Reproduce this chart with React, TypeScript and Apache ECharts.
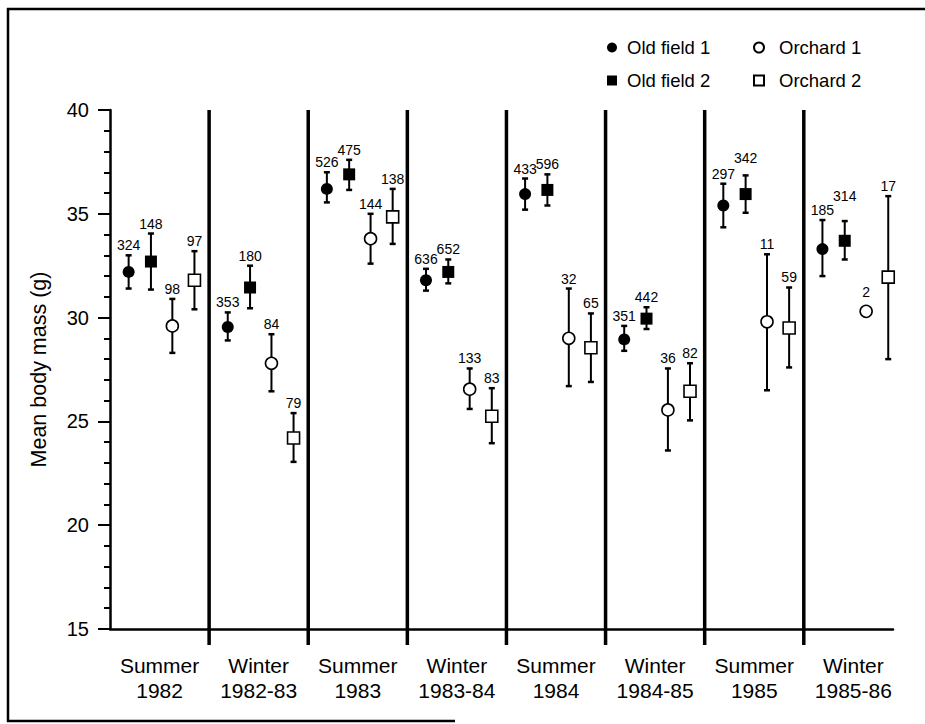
import React, { useEffect, useRef } from "react";
import * as echarts from "echarts";

// ---- Data ----
const periods = [
  "Summer\n1982",
  "Winter\n1982-83",
  "Summer\n1983",
  "Winter\n1983-84",
  "Summer\n1984",
  "Winter\n1984-85",
  "Summer\n1985",
  "Winter\n1985-86",
];

const seriesNames = ["Old field 1", "Old field 2", "Orchard 1", "Orchard 2"];

const oldField1Mean = [32.2, 29.55, 36.2, 31.8, 35.95, 28.95, 35.4, 33.3];
const oldField1Low = [31.4, 28.9, 35.55, 31.3, 35.2, 28.4, 34.35, 32.0];
const oldField1High = [33.0, 30.25, 37.0, 32.35, 36.7, 29.6, 36.45, 34.7];
const oldField1N = [324, 353, 526, 636, 433, 351, 297, 185];

const oldField2Mean = [32.7, 31.45, 36.9, 32.2, 36.15, 29.95, 35.95, 33.7];
const oldField2Low = [31.35, 30.45, 36.15, 31.65, 35.4, 29.45, 35.05, 32.8];
const oldField2High = [34.05, 32.5, 37.6, 32.8, 36.9, 30.5, 36.85, 34.65];
const oldField2N = [148, 180, 475, 652, 596, 442, 342, 314];

const orchard1Mean = [29.6, 27.8, 33.8, 26.55, 29.0, 25.55, 29.8, 30.3];
const orchard1Low = [28.3, 26.45, 32.6, 25.6, 26.7, 23.6, 26.5, null];
const orchard1High = [30.9, 29.2, 35.0, 27.55, 31.4, 27.55, 33.05, null];
const orchard1N = [98, 84, 144, 133, 32, 36, 11, 2];

const orchard2Mean = [31.8, 24.2, 34.85, 25.25, 28.55, 26.45, 29.5, 31.95];
const orchard2Low = [30.4, 23.05, 33.55, 23.95, 26.9, 25.05, 27.6, 28.0];
const orchard2High = [33.2, 25.4, 36.2, 26.6, 30.2, 27.8, 31.45, 35.85];
const orchard2N = [97, 79, 138, 83, 65, 82, 59, 17];

const yTicks = [15, 20, 25, 30, 35, 40];

// ---- Layout / style ----
const FONT = "'Liberation Sans', Arial, Helvetica, sans-serif";
const groupOffsets = [0.188, 0.413, 0.629, 0.852];
const symbols = ["circle", "rect", "circle", "rect"];
const filled = [true, true, false, false];
// extra label lift (px) for a few labels drawn higher in the reference
const labelLift: Record<string, number> = { "1-6": 7, "1-7": 15, "2-7": 3 };

const groups = [
  { mean: oldField1Mean, lo: oldField1Low, hi: oldField1High, n: oldField1N },
  { mean: oldField2Mean, lo: oldField2Low, hi: oldField2High, n: oldField2N },
  { mean: orchard1Mean, lo: orchard1Low, hi: orchard1High, n: orchard1N },
  { mean: orchard2Mean, lo: orchard2Low, hi: orchard2High, n: orchard2N },
];

function buildOption() {
  const yMin = yTicks[0];
  const yMax = yTicks[yTicks.length - 1];
  const series: any[] = [];

  // period separators
  series.push({
    type: "custom",
    name: "sep",
    silent: true,
    clip: false,
    z: 1,
    data: periods.slice(1).map((_, i) => [i + 1, yMax]),
    encode: { x: 0, y: 1 },
    renderItem: (params: any, api: any) => {
      const x = api.value(0);
      const top = api.coord([x, yMax]);
      const bot = api.coord([x, yMin]);
      return {
        type: "line",
        shape: { x1: top[0], y1: top[1], x2: bot[0], y2: bot[1] + 16 },
        style: { stroke: "#000", lineWidth: 3.5 },
      };
    },
  });

  groups.forEach((g, gi) => {
    const xs = g.mean.map((_, i) => i + groupOffsets[gi]);
    // error bars
    series.push({
      type: "custom",
      name: seriesNames[gi] + " SE",
      silent: true,
      z: 2,
      data: g.mean
        .map((_, i) => (g.lo[i] == null ? null : [xs[i], g.lo[i], g.hi[i]]))
        .filter((d) => d != null),
      encode: { x: 0, y: [1, 2] },
      renderItem: (params: any, api: any) => {
        const x = api.value(0);
        const pLo = api.coord([x, api.value(1)]);
        const pHi = api.coord([x, api.value(2)]);
        const cw = 3;
        return {
          type: "group",
          children: [
            { type: "line", shape: { x1: pLo[0], y1: pLo[1], x2: pHi[0], y2: pHi[1] }, style: { stroke: "#000", lineWidth: 2 } },
            { type: "line", shape: { x1: pHi[0] - cw, y1: pHi[1], x2: pHi[0] + cw, y2: pHi[1] }, style: { stroke: "#000", lineWidth: 2.5 } },
            { type: "line", shape: { x1: pLo[0] - cw, y1: pLo[1], x2: pLo[0] + cw, y2: pLo[1] }, style: { stroke: "#000", lineWidth: 2.5 } },
          ],
        };
      },
    });
    // markers
    series.push({
      type: "scatter",
      name: seriesNames[gi],
      symbol: symbols[gi],
      symbolSize: 12,
      z: 3,
      itemStyle: filled[gi]
        ? { color: "#000", borderColor: "#000", borderWidth: 0, opacity: 1 }
        : { color: "#fff", borderColor: "#000", borderWidth: 1.6, opacity: 1 },
      emphasis: { disabled: true },
      data: g.mean.map((m, i) => [xs[i], m]),
    });
    // n labels
    series.push({
      type: "scatter",
      name: seriesNames[gi] + " n",
      symbol: "circle",
      symbolSize: 0,
      silent: true,
      z: 4,
      itemStyle: { color: "#000", opacity: 1 },
      data: g.mean.map((m, i) => {
        const hasBar = g.hi[i] != null;
        const lift = labelLift[gi + "-" + i] || 0;
        return {
          value: [xs[i], hasBar ? g.hi[i] : m],
          label: {
            show: true,
            position: "top",
            color: "#000",
            fontSize: 14,
            fontFamily: FONT,
            distance: 3 + lift + (hasBar ? 0 : 6),
            formatter: String(g.n[i]),
          },
        };
      }),
      label: {
        show: true,
        position: "top",
        color: "#000",
        fontSize: 14,
        fontFamily: FONT,
      },
    });
  });

  const legendCommon = {
    orient: "vertical",
    top: 38,
    padding: 0,
    itemWidth: 10,
    itemHeight: 10,
    itemGap: 14,
    selectedMode: false,
  };

  return {
    animation: false,
    backgroundColor: "#fff",
    textStyle: { fontFamily: FONT, color: "#000" },
    legend: [
      {
        ...legendCommon,
        left: 607,
        data: [seriesNames[0], seriesNames[1]],
        textStyle: { fontSize: 18.5, color: "#000", fontFamily: FONT, padding: [0, 0, 0, 5] },
      },
      {
        ...legendCommon,
        left: 753,
        data: [seriesNames[2], seriesNames[3]],
        textStyle: { fontSize: 18.5, color: "#000", fontFamily: FONT, padding: [0, 0, 0, 10] },
      },
    ],
    grid: { left: 110, right: 32, top: 110, bottom: 95, containLabel: false },
    xAxis: {
      type: "value",
      min: 0,
      max: 7.9,
      interval: 0.5,
      axisLine: { show: true, onZero: false, lineStyle: { color: "#000", width: 2.5 } },
      axisTick: { show: false },
      splitLine: { show: false },
      axisLabel: {
        show: true,
        color: "#000",
        fontSize: 21,
        lineHeight: 25,
        fontFamily: FONT,
        margin: 24,
        showMinLabel: false,
        showMaxLabel: false,
        formatter: (v: number) => {
          const k = Math.floor(v);
          return Math.abs(v - k - 0.5) < 1e-6 && periods[k] ? periods[k] : "";
        },
      },
    },
    yAxis: {
      type: "value",
      min: yMin,
      max: yMax,
      interval: 5,
      name: "Mean body mass (g)",
      nameLocation: "middle",
      nameGap: 60,
      nameTextStyle: { fontSize: 21.5, color: "#000", fontFamily: FONT },
      axisLine: { show: true, lineStyle: { color: "#000", width: 2.5 } },
      axisTick: { show: true, length: 12, lineStyle: { color: "#000", width: 2 } },
      minorTick: { show: true, splitNumber: 5, length: 6, lineStyle: { color: "#000", width: 2 } },
      splitLine: { show: false },
      minorSplitLine: { show: false },
      axisLabel: { color: "#000", fontSize: 20, fontFamily: FONT, margin: 21 },
    },
    graphic: [
      { type: "line", silent: true, shape: { x1: 7, y1: 9, x2: 925, y2: 9 }, style: { stroke: "#000", lineWidth: 2.5 } },
      { type: "line", silent: true, shape: { x1: 8, y1: 8, x2: 8, y2: 722 }, style: { stroke: "#000", lineWidth: 2.5 } },
      { type: "line", silent: true, shape: { x1: 7, y1: 721, x2: 455, y2: 721 }, style: { stroke: "#000", lineWidth: 2.5 } },
    ],
    series,
  };
}

export default function App() {
  const ref = useRef<HTMLDivElement>(null);
  useEffect(() => {
    document.body.style.margin = "0";
    document.body.style.overflow = "hidden";
    if (!ref.current) return;
    const chart = echarts.init(ref.current, undefined, { renderer: "svg" });
    chart.setOption(buildOption() as any);
    return () => chart.dispose();
  }, []);
  return <div ref={ref} style={{ width: 925, height: 724 }} />;
}
